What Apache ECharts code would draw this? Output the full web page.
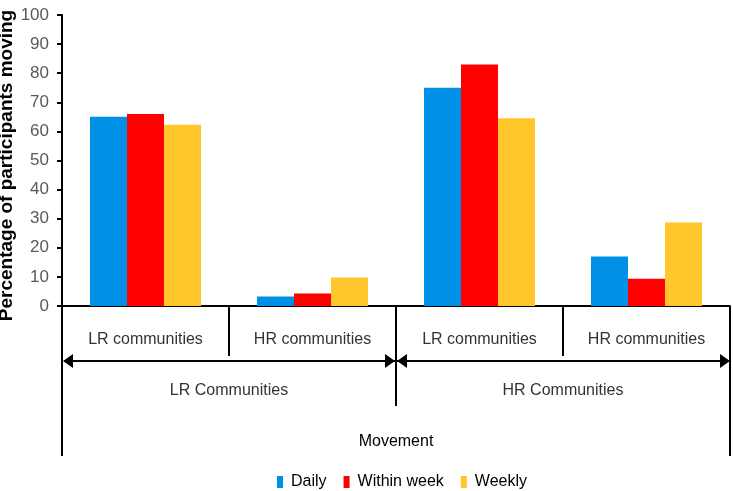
<!DOCTYPE html>
<html>
<head>
<meta charset="utf-8">
<script src="https://cdn.jsdelivr.net/npm/echarts@6/dist/echarts.min.js"></script>
<style>html,body{margin:0;padding:0;background:#fff}#c{width:733px;height:491px}</style>
</head>
<body>
<div id="c"></div>
<script>
var categories = ['LR communities', 'HR communities', 'LR communities', 'HR communities'];
var groups = ['LR Communities', 'HR Communities'];
var outer = ['Movement'];
var seriesNames = ['Daily', 'Within week', 'Weekly'];
var daily = [65, 3.3, 75, 17];
var withinWeek = [66, 4.3, 83, 9.4];
var weekly = [62.3, 9.8, 64.5, 28.7];
var yTicks = {min: 0, max: 100, interval: 10};
var colors = ['#0091E6', '#FF0000', '#FFC72C'];

var FONT = "'Liberation Sans', Arial, sans-serif";
var chart = echarts.init(document.getElementById('c'), null, {renderer: 'canvas'});

var gl = 62, gr = 730, gb = 306;
var ay = 361;
function arrowHead(tipX, dir) {
  return {type: 'polygon', silent: true,
    shape: {points: [[tipX, ay], [tipX - dir * 10, ay - 7], [tipX - dir * 10, ay + 7]]},
    style: {fill: '#000'}};
}
var mid = (gl + gr) / 2;

chart.setOption({
  animation: false,
  color: colors,
  grid: {left: gl, right: 733 - gr, top: 15, bottom: 491 - gb, containLabel: false, outerBoundsMode: 'none'},
  legend: {
    left: 272, top: 469,
    itemWidth: 6, itemHeight: 12, itemGap: 17,
    icon: 'rect',
    textStyle: {fontFamily: FONT, fontSize: 16, color: '#000', padding: [0, 0, 0, 3]},
    data: seriesNames
  },
  xAxis: [
    {type: 'category', data: categories, position: 'bottom',
      axisLine: {show: true, lineStyle: {color: '#000', width: 2}},
      axisTick: {show: true, interval: 0, length: 50, lineStyle: {color: '#000', width: 2}},
      axisLabel: {show: true, interval: 0, fontFamily: FONT, fontSize: 16, color: '#333', margin: 26}},
    {type: 'category', data: groups, position: 'bottom', offset: 0,
      axisLine: {show: false},
      axisTick: {show: true, interval: 0, length: 100, lineStyle: {color: '#000', width: 2}},
      axisLabel: {show: true, interval: 0, fontFamily: FONT, fontSize: 16, color: '#333', margin: 77}},
    {type: 'category', data: outer, position: 'bottom', offset: 0,
      axisLine: {show: false},
      axisTick: {show: true, interval: 0, length: 150, lineStyle: {color: '#000', width: 2}},
      axisLabel: {show: true, interval: 0, fontFamily: FONT, fontSize: 16, color: '#000', margin: 128}}
  ],
  yAxis: {
    type: 'value', min: yTicks.min, max: yTicks.max, interval: yTicks.interval,
    name: 'Percentage of participants moving',
    nameLocation: 'middle', nameGap: 46, nameMoveOverlap: false,
    nameTextStyle: {fontFamily: FONT, fontWeight: 'bold', fontSize: 19, color: '#000', padding: [0, 10, 0, 0]},
    axisLine: {show: true, lineStyle: {color: '#000', width: 2}},
    axisTick: {show: true, length: 5, lineStyle: {color: '#000', width: 2}},
    axisLabel: {fontFamily: FONT, fontSize: 17, color: '#595959', margin: 13},
    splitLine: {show: false}
  },
  series: [
    {name: seriesNames[0], type: 'bar', data: daily, barWidth: 37, barGap: '0%'},
    {name: seriesNames[1], type: 'bar', data: withinWeek, barWidth: 37, barGap: '0%'},
    {name: seriesNames[2], type: 'bar', data: weekly, barWidth: 37, barGap: '0%'}
  ],
  graphic: [
    {type: 'line', silent: true, shape: {x1: gl + 2, y1: ay, x2: gr - 2, y2: ay}, style: {stroke: '#000', lineWidth: 2}},
    arrowHead(gl + 1, -1),
    arrowHead(mid - 1, 1),
    arrowHead(mid + 1, -1),
    arrowHead(gr, 1)
  ]
});
</script>
</body>
</html>
